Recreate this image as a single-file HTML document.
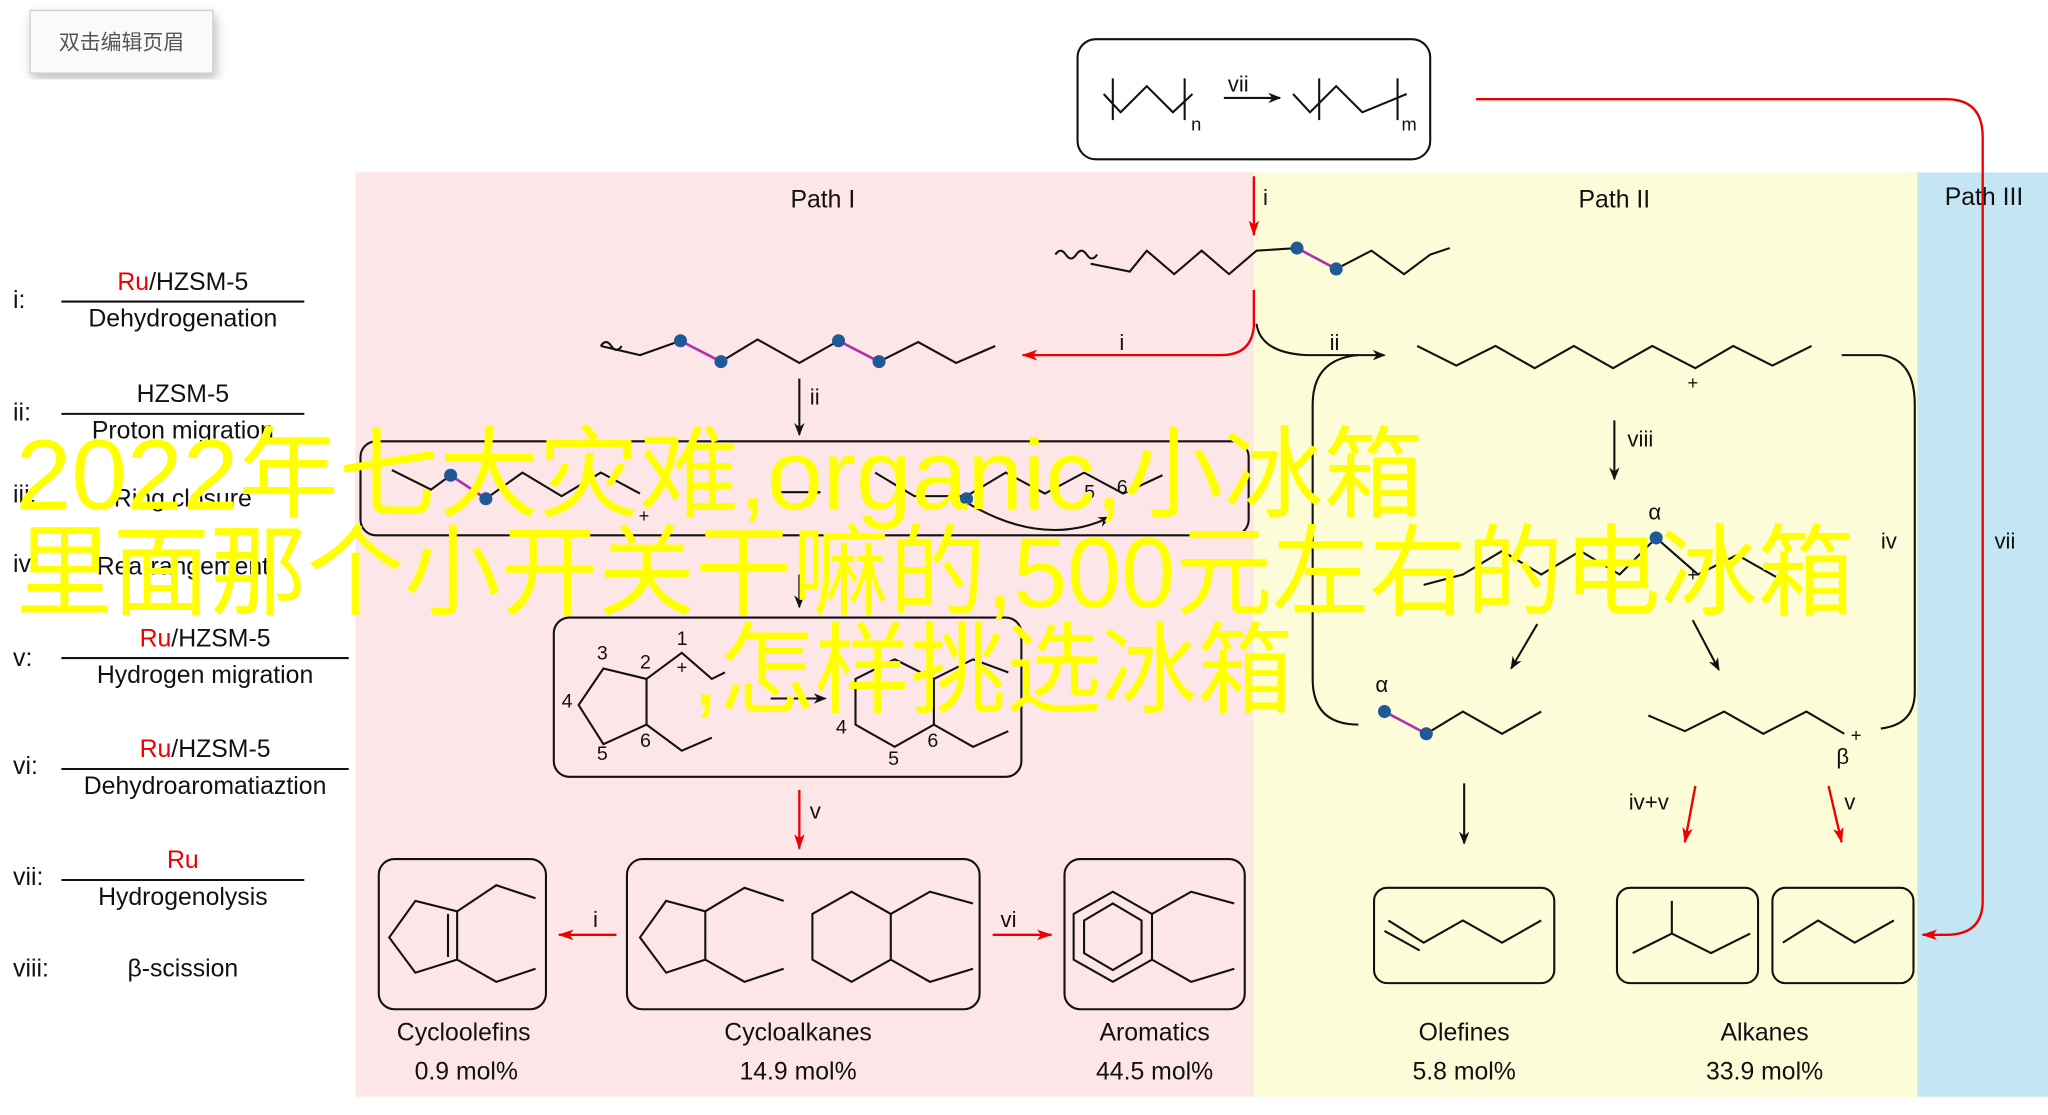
<!DOCTYPE html>
<html><head><meta charset="utf-8"><style>
html,body{margin:0;padding:0;background:#fff;width:2048px;height:1115px;overflow:hidden}
svg{display:block}
text{font-family:"Liberation Sans","Noto Sans CJK SC",sans-serif;fill:#111}
.big{font-family:"Liberation Sans","Noto Sans CJK SC",sans-serif;fill:#ffff00;font-size:76px}
</style></head><body>
<svg width="2048" height="1115" viewBox="0 0 1568 854" preserveAspectRatio="none" xmlns="http://www.w3.org/2000/svg">
<defs>
<marker id="ab" markerWidth="10" markerHeight="10" refX="9" refY="5" orient="auto" markerUnits="userSpaceOnUse"><path d="M0,1 L10,5 L0,9 L3,5z" fill="#111"/></marker>
<marker id="ar" markerWidth="12" markerHeight="10" refX="11" refY="5" orient="auto" markerUnits="userSpaceOnUse"><path d="M0,1 L12,5 L0,9 L3,5z" fill="#e00"/></marker>
<filter id="sh"><feDropShadow dx="2" dy="4" stdDeviation="4" flood-opacity="0.25"/></filter>
</defs>
<rect x="272" y="132" width="688" height="708" fill="#fde6e8"/>
<rect x="960" y="132" width="508" height="708" fill="#fcfcd8"/>
<rect x="1468" y="132" width="100" height="708" fill="#c4e6f4"/>
<rect x="23" y="8" width="140" height="48" fill="#fafafa" stroke="#ccc" filter="url(#sh)"/>
<text x="93" y="38" font-size="16" text-anchor="middle" style="fill:#555">双击编辑页眉</text>
<text x="630" y="159" font-size="19" text-anchor="middle">Path I</text>
<text x="1236" y="159" font-size="19" text-anchor="middle">Path II</text>
<text x="1519" y="157" font-size="19" text-anchor="middle">Path III</text>
<g fill="none" stroke="#111" stroke-width="1.6">
<rect x="825" y="30" width="270" height="92" rx="14"/>
<polyline points="845,72 858,86 878,66 898,86 913,72"/>
<line x1="852" y1="60" x2="852" y2="92"/><line x1="907" y1="60" x2="907" y2="92"/>
<polyline points="990,72 1003,86 1023,66 1043,86 1077,72"/>
<line x1="1010" y1="60" x2="1010" y2="92"/><line x1="1070" y1="60" x2="1070" y2="92"/>
<line x1="937" y1="75" x2="980" y2="75" marker-end="url(#ab)"/>
<path d="M808,195 q4,-6 8,0 t8,0 t8,0 t8,0"/>
<polyline points="835,202 865,208 878,192 899,210 920,192 941,210 962,192 993,190 1023,206 1050,192 1075,210 1095,195 1110,190"/>
<path d="M460,265 q4,-6 8,0 t8,0"/>
<polyline points="460,265 490,272 521,261 552,277 580,260 612,278 642,261 673,277 703,262 732,278 762,265"/>
<polyline points="1085,265 1115,280 1145,265 1175,282 1205,265 1235,282 1265,265 1298,282 1327,265 1357,280 1387,265"/>
<line x1="612" y1="290" x2="612" y2="333" marker-end="url(#ab)"/>
<rect x="276" y="338" width="680" height="72" rx="12"/>
<polyline points="300,360 330,375 345,364 372,382 400,362 430,380 460,362 490,378"/>
<line x1="597" y1="377" x2="628" y2="377" marker-end="url(#ab)"/>
<polyline points="670,362 700,380 740,380 770,362 800,378 830,362 860,378 890,364"/>
<path d="M742,386 Q800,420 850,396" marker-end="url(#ab)"/>
<line x1="612" y1="440" x2="612" y2="465" marker-end="url(#ab)"/>
<rect x="424" y="473" width="358" height="122" rx="12"/>
<polygon points="462,512 495,520 495,555 462,570 443,540"/>
<polyline points="495,520 522,500 545,520 555,515"/>
<polyline points="495,555 522,575 545,565"/>
<line x1="590" y1="535" x2="632" y2="535" marker-end="url(#ab)"/>
<polygon points="655,520 685,505 715,520 715,555 685,572 655,555"/>
<polyline points="715,520 745,505 772,515"/><polyline points="715,555 745,572 772,560"/>
<rect x="290" y="658" width="128" height="115" rx="12"/>
<polygon points="318,690 350,698 350,735 318,745 298,718"/>
<line x1="343" y1="700" x2="343" y2="733"/>
<polyline points="350,698 380,678 410,688"/><polyline points="350,735 380,752 410,742"/>
<rect x="480" y="658" width="270" height="115" rx="12"/>
<polygon points="510,690 540,698 540,735 510,745 490,718"/>
<polyline points="540,698 570,680 600,690"/><polyline points="540,735 570,752 600,742"/>
<polygon points="622,700 652,683 682,700 682,735 652,752 622,735"/>
<polyline points="682,700 712,683 745,692"/><polyline points="682,735 712,752 745,742"/>
<rect x="815" y="658" width="138" height="115" rx="12"/>
<polygon points="822,700 852,683 882,700 882,735 852,752 822,735"/>
<polygon points="830,705 852,692 874,705 874,730 852,743 830,730"/>
<polyline points="882,700 912,683 945,692"/><polyline points="882,735 912,752 945,742"/>
<path d="M962,248 Q965,270 1000,272 L1060,272" marker-end="url(#ab)"/>
<path d="M1040,555 Q1005,555 1005,520 L1005,310 Q1005,275 1040,272"/>
<path d="M1410,272 L1440,272 Q1466,275 1466,310 L1466,530 Q1466,555 1440,558"/>
<line x1="1236" y1="322" x2="1236" y2="367" marker-end="url(#ab)"/>
<polyline points="1090,448 1120,440 1150,422 1180,440 1210,422 1240,440 1268,412 1300,440 1330,425 1360,442"/>
<line x1="1177" y1="478" x2="1157" y2="512" marker-end="url(#ab)"/>
<line x1="1296" y1="475" x2="1316" y2="513" marker-end="url(#ab)"/>
<polyline points="1060,545 1092,562 1120,545 1150,562 1180,545"/>
<polyline points="1262,548 1290,560 1320,545 1350,562 1383,545 1412,562"/>
<line x1="1121" y1="600" x2="1121" y2="646" marker-end="url(#ab)"/>
<rect x="1052" y="680" width="138" height="73" rx="10"/>
<polyline points="1063,705 1090,722 1120,705 1150,722 1180,705"/>
<line x1="1060" y1="713" x2="1087" y2="728"/>
<rect x="1238" y="680" width="108" height="73" rx="10"/>
<polyline points="1250,730 1280,715 1310,730 1340,715"/><line x1="1280" y1="715" x2="1280" y2="690"/>
<rect x="1357" y="680" width="108" height="73" rx="10"/>
<polyline points="1365,722 1392,705 1420,722 1450,705"/>
</g>
<g fill="none" stroke="#e00" stroke-width="1.8">
<line x1="960" y1="135" x2="960" y2="180" marker-end="url(#ar)"/>
<path d="M960,222 L960,250 Q958,272 935,272 L783,272" marker-end="url(#ar)"/>
<line x1="612" y1="605" x2="612" y2="650" marker-end="url(#ar)"/>
<line x1="472" y1="716" x2="428" y2="716" marker-end="url(#ar)"/>
<line x1="760" y1="716" x2="805" y2="716" marker-end="url(#ar)"/>
<line x1="1298" y1="602" x2="1290" y2="645" marker-end="url(#ar)"/>
<line x1="1400" y1="602" x2="1410" y2="645" marker-end="url(#ar)"/>
<path d="M1130,76 L1490,76 Q1518,76 1518,105 L1518,690 Q1518,716 1490,716 L1472,716" marker-end="url(#ar)"/>
</g>
<g stroke="#b030b0" stroke-width="2"><line x1="993" y1="190" x2="1023" y2="206"/><line x1="521" y1="261" x2="552" y2="277"/><line x1="642" y1="261" x2="673" y2="277"/><line x1="345" y1="364" x2="372" y2="382"/><line x1="1060" y1="545" x2="1092" y2="562"/></g>
<g fill="#1f5a96"><circle cx="993" cy="190" r="5"/><circle cx="1023" cy="206" r="5"/><circle cx="521" cy="261" r="5"/><circle cx="552" cy="277" r="5"/><circle cx="642" cy="261" r="5"/><circle cx="673" cy="277" r="5"/><circle cx="345" cy="364" r="5"/><circle cx="372" cy="382" r="5"/><circle cx="740" cy="382" r="5"/><circle cx="1268" cy="412" r="5"/><circle cx="1060" cy="545" r="5"/><circle cx="1092" cy="562" r="5"/></g>
<g font-size="17">
<text x="940" y="70">vii</text><text x="912" y="100" font-size="14">n</text><text x="1073" y="100" font-size="14">m</text>
<text x="967" y="157">i</text><text x="857" y="268">i</text><text x="1018" y="268">ii</text><text x="620" y="310">ii</text>
<text x="1246" y="342">viii</text><text x="1262" y="398">α</text><text x="1053" y="530">α</text><text x="1406" y="585">β</text>
<text x="1292" y="298" font-size="14">+</text><text x="489" y="400" font-size="14">+</text><text x="1292" y="445" font-size="14">+</text><text x="1417" y="568" font-size="14">+</text>
<text x="1440" y="420">iv</text><text x="1527" y="420">vii</text><text x="620" y="627">v</text><text x="454" y="710">i</text><text x="766" y="710">vi</text>
<text x="1247" y="620">iv+v</text><text x="1412" y="620">v</text>
<text x="457" y="505" font-size="15">3</text><text x="490" y="512" font-size="15">2</text><text x="518" y="494" font-size="15">1</text><text x="430" y="542" font-size="15">4</text><text x="457" y="582" font-size="15">5</text><text x="490" y="572" font-size="15">6</text><text x="518" y="516" font-size="14">+</text>
<text x="640" y="562" font-size="15">4</text><text x="680" y="586" font-size="15">5</text><text x="710" y="572" font-size="15">6</text><text x="830" y="382" font-size="15">5</text><text x="855" y="378" font-size="15">6</text>
</g>
<g font-size="19" text-anchor="middle">
<text x="355" y="797">Cycloolefins</text><text x="357" y="827">0.9 mol%</text>
<text x="611" y="797">Cycloalkanes</text><text x="611" y="827">14.9 mol%</text>
<text x="884" y="797">Aromatics</text><text x="884" y="827">44.5 mol%</text>
<text x="1121" y="797">Olefines</text><text x="1121" y="827">5.8 mol%</text>
<text x="1351" y="797">Alkanes</text><text x="1351" y="827">33.9 mol%</text>
</g>
<g font-size="19">
<text x="10" y="236">i:</text><text x="10" y="322">ii:</text><text x="10" y="385">iii:</text><text x="10" y="438">iv:</text><text x="10" y="510">v:</text><text x="10" y="593">vi:</text><text x="10" y="678">vii:</text><text x="10" y="748">viii:</text>
<g text-anchor="middle">
<text x="140" y="222"><tspan style="fill:#e00">Ru</tspan>/HZSM-5</text><text x="140" y="250">Dehydrogenation</text>
<text x="140" y="308">HZSM-5</text><text x="140" y="336">Proton migration</text>
<text x="140" y="388">Ring closure</text><text x="140" y="440">Rearrangement</text>
<text x="157" y="495"><tspan style="fill:#e00">Ru</tspan>/HZSM-5</text><text x="157" y="523">Hydrogen migration</text>
<text x="157" y="580"><tspan style="fill:#e00">Ru</tspan>/HZSM-5</text><text x="157" y="608">Dehydroaromatiaztion</text>
<text x="140" y="665" style="fill:#e00">Ru</text><text x="140" y="693">Hydrogenolysis</text>
<text x="140" y="748">β-scission</text>
</g></g>
<g stroke="#111" stroke-width="1.6"><line x1="47" y1="231" x2="233" y2="231"/><line x1="47" y1="317" x2="233" y2="317"/><line x1="47" y1="504" x2="267" y2="504"/><line x1="47" y1="589" x2="267" y2="589"/><line x1="47" y1="674" x2="233" y2="674"/></g>
<text class="big" x="12" y="390" textLength="1078" lengthAdjust="spacingAndGlyphs">2022年七大灾难,organic,小冰箱</text>
<text class="big" x="12" y="465" textLength="1408" lengthAdjust="spacingAndGlyphs">里面那个小开关干嘛的,500元左右的电冰箱</text>
<text class="big" x="530" y="540" textLength="460" lengthAdjust="spacingAndGlyphs">,怎样挑选冰箱</text>
</svg>
</body></html>
